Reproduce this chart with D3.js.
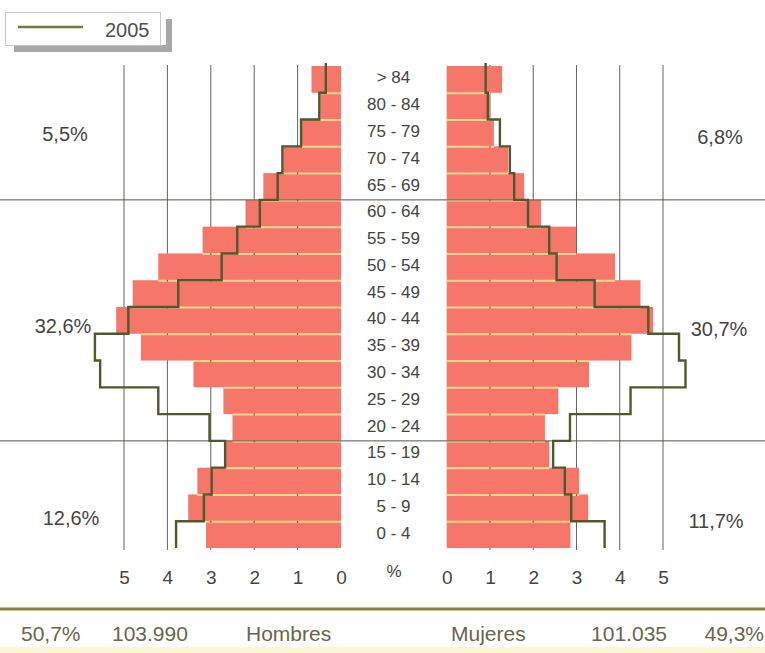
<!DOCTYPE html>
<html>
<head>
<meta charset="utf-8">
<script src="https://cdn.jsdelivr.net/npm/d3@7"></script>
<style>
  html, body { margin: 0; padding: 0; background: #ffffff; }
  svg { display: block; font-family: "Liberation Sans", Arial, sans-serif; }
</style>
</head>
<body>
<svg id="chart" width="765" height="653"></svg>
<script>
// ---------------- data ----------------
const ages = ["0 - 4","5 - 9","10 - 14","15 - 19","20 - 24","25 - 29","30 - 34","35 - 39","40 - 44",
              "45 - 49","50 - 54","55 - 59","60 - 64","65 - 69","70 - 74","75 - 79","80 - 84","> 84"];
const menBars    = [3.11,3.52,3.31,2.67,2.50,2.71,3.40,4.61,5.18,4.80,4.21,3.19,2.20,1.79,1.33,0.90,0.48,0.68];
const men2005    = [3.80,3.16,2.98,2.67,3.03,4.21,5.55,5.67,4.90,3.75,2.75,2.39,1.87,1.46,1.35,0.92,0.50,0.35];
const womenBars  = [2.86,3.27,3.06,2.37,2.27,2.58,3.29,4.27,4.77,4.48,3.89,2.99,2.18,1.79,1.42,1.09,1.00,1.28];
const women2005  = [3.65,2.88,2.73,2.46,2.85,4.25,5.52,5.37,4.66,3.42,2.54,2.37,1.88,1.56,1.46,1.23,0.95,0.90];
const tickValues = [0,1,2,3,4,5];
const groupBreaks = ["15 - 19","60 - 64"];          // a line is drawn at the top of each of these groups
const menShares   = ["12,6%","32,6%","5,5%"];        // 0-14, 15-64, 65+
const womenShares = ["11,7%","30,7%","6,8%"];
const legendLabel = "2005";
const axisUnit = "%";
const totals = { menPct: "50,7%", menCount: "103.990", menLabel: "Hombres",
                 womenLabel: "Mujeres", womenCount: "101.035", womenPct: "49,3%" };

// ---------------- layout ----------------
const svg = d3.select("#chart");
const barColor = "#f6776a", sepColor = "#f8d98c", lineColor = "#4e5a2c",
      gridColor = "#5d665a", textColor = "#45453f", footColor = "#6a664a";

const y = d3.scaleBand().domain(ages.slice().reverse()).range([66, 548]).paddingInner(0);
const xL = d3.scaleLinear().domain([0,5]).range([341, 124]);
const xR = d3.scaleLinear().domain([0,5]).range([446.7, 663]);
const bw = y.bandwidth();

// vertical gridlines
const gridG = svg.append("g");
[xL, xR].forEach(sc => {
  gridG.selectAll(null).data(tickValues.filter(v => v > 0)).join("line")
    .attr("x1", d => sc(d)).attr("x2", d => sc(d))
    .attr("y1", 65).attr("y2", 550)
    .attr("stroke", gridColor).attr("stroke-width", 1);
});

// bars
function drawBars(vals, sc) {
  const g = svg.append("g");
  g.selectAll("rect").data(ages).join("rect")
    .attr("x", (d,i) => Math.min(sc(0), sc(vals[i])))
    .attr("width", (d,i) => Math.abs(sc(vals[i]) - sc(0)))
    .attr("y", d => y(d))
    .attr("height", bw)
    .attr("fill", barColor);
  // separators between adjacent bars
  const seps = ages.slice(0, -1).map((a, i) => ({ a: ages[i], m: Math.min(vals[i], vals[i+1]) }));
  g.selectAll("line.sep").data(seps).join("line").attr("class","sep")
    .attr("x1", sc(0)).attr("x2", d => sc(d.m))
    .attr("y1", d => y(d.a) + 0.5).attr("y2", d => y(d.a) + 0.5)
    .attr("stroke", sepColor).attr("stroke-width", 2);
  // grid dots visible through the separators
  seps.forEach(s => {
    tickValues.filter(v => v > 0 && v < s.m).forEach(v => {
      g.append("line").attr("x1", sc(v)).attr("x2", sc(v))
        .attr("y1", y(s.a) - 0.5).attr("y2", y(s.a) + 1.5)
        .attr("stroke", "#a05a3a").attr("stroke-width", 1.2);
    });
  });
}
drawBars(menBars, xL);
drawBars(womenBars, xR);

// group break lines
svg.append("g").selectAll("line").data(groupBreaks).join("line")
  .attr("x1", 0).attr("x2", 765)
  .attr("y1", d => y(d)).attr("y2", d => y(d))
  .attr("stroke", "#4d5a4a").attr("stroke-width", 1);

// 2005 step lines
function stepLine(vals, sc) {
  const pts = [];
  ages.slice().reverse().forEach(a => {
    const v = vals[ages.indexOf(a)];
    pts.push([sc(v), y(a)], [sc(v), y(a) + bw]);
  });
  pts[0][1] -= 3;
  svg.append("path").attr("d", d3.line()(pts))
    .attr("fill", "none").attr("stroke", lineColor).attr("stroke-width", 2.4)
    .attr("stroke-linejoin", "miter");
}
stepLine(men2005, xL);
stepLine(women2005, xR);

// age labels
svg.append("g").selectAll("text").data(ages).join("text")
  .attr("x", 393.5).attr("y", d => y(d) + bw/2 + 4)
  .attr("text-anchor", "middle").attr("font-size", 17).attr("fill", textColor)
  .text(d => d);

// share labels
const leftPos  = [[71, 525], [63, 333], [65, 141]];
const rightPos = [[716, 528], [719, 336], [720, 144]];
svg.append("g").selectAll("text").data(menShares).join("text")
  .attr("x", (d,i) => leftPos[i][0]).attr("y", (d,i) => leftPos[i][1])
  .attr("text-anchor", "middle").attr("font-size", 20).attr("fill", textColor).text(d => d);
svg.append("g").selectAll("text").data(womenShares).join("text")
  .attr("x", (d,i) => rightPos[i][0]).attr("y", (d,i) => rightPos[i][1])
  .attr("text-anchor", "middle").attr("font-size", 20).attr("fill", textColor).text(d => d);

// axes
function axis(sc) {
  const g = svg.append("g").attr("transform", "translate(0,567)")
    .call(d3.axisBottom(sc).tickValues(tickValues).tickSize(0).tickFormat(d3.format("d")));
  g.select(".domain").remove();
  g.selectAll("text").attr("font-size", 19).attr("fill", textColor)
    .attr("font-family", "'Liberation Sans', Arial, sans-serif");
}
axis(xL);
axis(xR);
svg.append("text").attr("x", 394).attr("y", 577).attr("text-anchor", "middle")
  .attr("font-size", 17).attr("fill", textColor).text(axisUnit);

// footer
svg.append("rect").attr("x", 0).attr("y", 607.5).attr("width", 765).attr("height", 3).attr("fill", "#8a8040");
svg.append("rect").attr("x", 0).attr("y", 647).attr("width", 765).attr("height", 6).attr("fill", "#fcf6d6");
const foot = [[totals.menPct, 21, "start"], [totals.menCount, 112, "start"], [totals.menLabel, 246, "start"],
              [totals.womenLabel, 451, "start"], [totals.womenCount, 667, "end"], [totals.womenPct, 764, "end"]];
svg.append("g").selectAll("text").data(foot).join("text")
  .attr("x", d => d[1]).attr("y", 641).attr("text-anchor", d => d[2])
  .attr("font-size", 21).attr("fill", footColor).text(d => d[0]);

// legend
const lg = svg.append("g");
lg.append("rect").attr("x", 166).attr("y", 19).attr("width", 6).attr("height", 33).attr("fill", "#a8a8a8");
lg.append("rect").attr("x", 14).attr("y", 45).attr("width", 158).attr("height", 7).attr("fill", "#a8a8a8");
lg.append("rect").attr("x", 5.5).attr("y", 12.5).attr("width", 155).attr("height", 33)
  .attr("fill", "#ffffff").attr("stroke", "#c8c8c8").attr("stroke-width", 1);
lg.append("line").attr("x1", 18).attr("x2", 83).attr("y1", 27).attr("y2", 27)
  .attr("stroke", "#77763f").attr("stroke-width", 2.5);
lg.append("text").attr("x", 105).attr("y", 37).attr("font-size", 20).attr("fill", "#505050").text(legendLabel);
</script>
</body>
</html>
